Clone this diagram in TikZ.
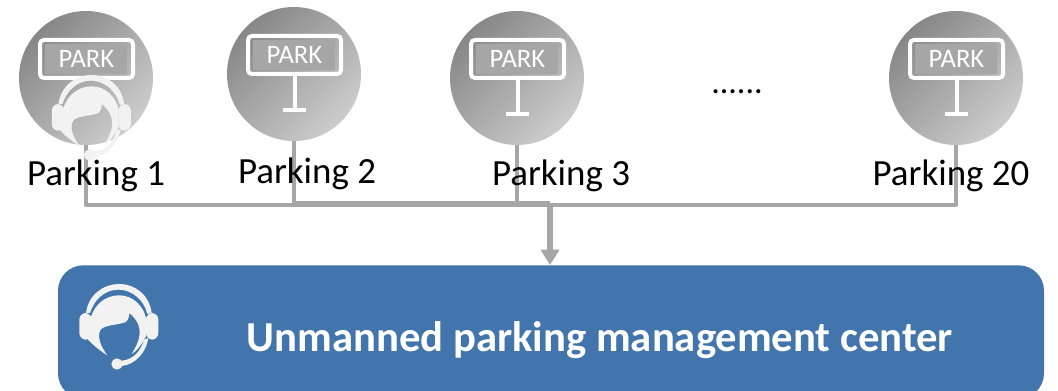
\documentclass[tikz,border=0pt]{standalone}
\usepackage{fontspec}
\setmainfont{Carlito}
\usetikzlibrary{arrows.meta, positioning}
\definecolor{boxblue}{HTML}{4275AB}
\definecolor{linegray}{HTML}{A6A6A6}
\definecolor{iconwhite}{HTML}{F2F2F2}
\tikzstyle{parkcircle} = [circle, minimum size=100.5pt, inner sep=0pt, left color=black!47, right color=black!20, shading angle=45]
\tikzstyle{parklabel} = [inner sep=0pt, font=\fontsize{27.7pt}{32pt}\selectfont]
\tikzstyle{arrow} = [line width=3pt, linegray, line join=round]
\tikzstyle{centerbox} = [rectangle, rounded corners=19pt, minimum width=739.5pt, minimum height=100pt, fill=boxblue]
\tikzset{
  parksign/.pic={
    \fill [black!35] (-41,-34) rectangle (41,-4);
    \draw [white, line width=3pt, rounded corners=3pt] (-46,-38) rectangle (47,0);
    \node [white, inner sep=0pt, font=\fontsize{20pt}{22pt}\selectfont] at (0.5,-19) {PARK};
  },
  parkpost/.pic={
    \draw [white, line width=3pt] (0.5,0) -- (0.5,36);
    \draw [white, line width=3.5pt] (-11,36) -- (12,36);
  },
  headset/.pic={
    \begin{scope}[x=0.25pt, y=-0.25pt, shift={(-144,-147)}]
    % arco de cima
    \fill [iconwhite] (48,105) .. controls (55,50) and (100,18) .. (147,18) .. controls (195,18) and (238,50) .. (245,105)
      -- (232,108) .. controls (222,65) and (185,35) .. (145,35) .. controls (105,35) and (72,65) .. (60,105) -- cycle;
    % fones
    \fill [iconwhite, rounded corners=5pt] (28,105) rectangle (65,185);
    \fill [iconwhite, rounded corners=5pt] (228,105) rectangle (265,185);
    % cabeca
    \fill [iconwhite] (112,232) .. controls (85,215) and (62,195) .. (50,180) -- (62,120) .. controls (75,75) and (110,52) .. (148,52)
      .. controls (190,52) and (220,85) .. (228,120) -- (228,175) .. controls (215,200) and (200,220) .. (185,228)
      .. controls (205,195) and (215,170) .. (205,140) .. controls (198,125) and (190,115) .. (178,105)
      .. controls (178,120) and (172,130) .. (165,133) .. controls (140,142) and (105,140) .. (92,155)
      .. controls (80,175) and (92,205) .. (112,232) -- cycle;
    % microfone
    \fill [iconwhite] (235,180) .. controls (228,225) and (195,260) .. (155,264) -- (155,248) .. controls (190,245) and (212,220) .. (222,185) -- cycle;
    \fill [iconwhite] (141,258) circle [radius=17];
    \end{scope}
  }
}
\begin{document}
\begin{tikzpicture}[x=0.75pt, y=-0.75pt]
\useasboundingbox (0,0) rectangle (1058,391);

\node (park1)  [parkcircle] at (86,78) {};
\node (park2)  [parkcircle] at (294,74) {};
\node (park3)  [parkcircle] at (517,78) {};
\node (park20) [parkcircle] at (956,78) {};
\node (center) [centerbox] at (551,332) {};
\coordinate (hub) at (550,205);
\coordinate (hubtop) at (550,203);

% Linhas ate o centro
\draw [arrow] (park1.south) |- (hub);
\draw [arrow] (park20.south) |- (hub);
\draw [arrow] (park2.south) |- (hubtop);
\draw [arrow] (park3.south) |- (hubtop);
\draw [line width=3.8pt, linegray, -{Triangle[width=13.5pt, length=11.5pt]}] (hubtop) -- (center.north -| hub);

% Placas
\pic at (86,78) {parksign};
\pic at (294,74) {parksign};
\pic at (294,74) {parkpost};
\pic at (517,78) {parksign};
\pic at (517,78) {parkpost};
\pic at (956,78) {parksign};
\pic at (956,78) {parkpost};

% Fones
\pic at (90.5,118) {headset};
\pic at (118,327) {headset};

\node (label1)  [parklabel] at (96,176) {Parking 1};
\node (label2)  [parklabel] at (307,174) {Parking 2};
\node (label3)  [parklabel] at (561,176) {Parking 3};
\node (label20) [parklabel] at (951,176) {Parking 20};
\node (dots)    [inner sep=0pt, font=\fontsize{25.5pt}{30pt}\selectfont] at (737,92) {......};
\node (title)   [white, inner sep=0pt, font=\fontsize{32pt}{38pt}\selectfont\bfseries] at (600,340) {Unmanned parking management center};

\end{tikzpicture}
\end{document}
